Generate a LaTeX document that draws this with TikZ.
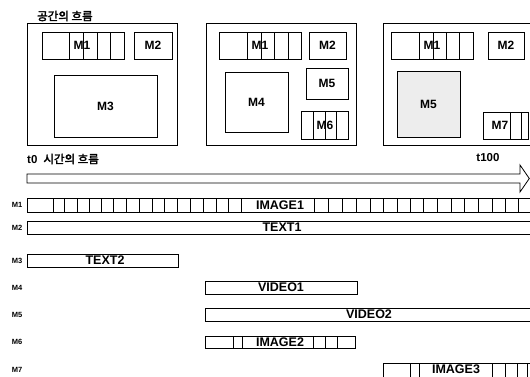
\documentclass[tikz,border=0pt]{standalone}
\usepackage{fontspec}
\setmainfont{Liberation Sans}
\newfontfamily\kr{Noto Sans CJK KR}[AutoFakeBold=2.5]
\begin{document}
\begin{tikzpicture}[x=1pt,y=-1pt,
  box/.style={draw=black, line width=0.8pt, anchor=north west, inner sep=0pt, outer sep=0pt,
              font=\fontsize{12}{12}\selectfont\bfseries},
  bar/.style={draw=black, line width=0.8pt, anchor=north west, inner sep=0pt, outer sep=0pt},
  div/.style={line width=0.7pt},
  mtxt/.style={inner sep=0pt, font=\fontsize{12}{12}\selectfont\bfseries},
  rowtxt/.style={inner sep=0.5pt, fill=white, font=\fontsize{12.5}{13}\selectfont\bfseries},
  rowlab/.style={inner sep=0pt, font=\fontsize{7.5}{8}\selectfont\bfseries},
  ttl/.style={inner sep=0pt, anchor=west, font=\fontsize{11.5}{12}\selectfont\bfseries}]
\clip (0,0) rectangle (530,376);
\fill[white] (0,0) rectangle (530,376);

% titles
\node[ttl] (sp) at (37,16) {\kr 공간의 흐름};
\node[ttl] (tz) at (27,159) {t0\hspace{6pt}{\kr 시간의 흐름}};
\node[ttl, anchor=center] (th) at (488,158) {t100};

% panel 1
\node[bar, minimum width=150pt, minimum height=122pt] (p1) at (27,23) {};
\node[box, minimum width=82pt, minimum height=27pt] (a1) at (42,32) {};
\foreach \x in {69,83,97,110} \draw[div] (\x,32) -- (\x,59);
\node[mtxt] (a1t) at (82,45.5) {M1};
\node[box, minimum width=38pt, minimum height=27pt] (a2) at (134,32) {M2};
\node[box, minimum width=103pt, minimum height=62pt] (a3) at (54,75) {M3};

% panel 2
\node[bar, minimum width=150pt, minimum height=122pt] (p2) at (206,23) {};
\node[box, minimum width=82pt, minimum height=27pt] (b1) at (219,32) {};
\foreach \x in {247,261,274,288} \draw[div] (\x,32) -- (\x,59);
\node[mtxt] (b1t) at (260,45.5) {M1};
\node[box, minimum width=37pt, minimum height=27pt] (b2) at (309,32) {M2};
\node[box, minimum width=63pt, minimum height=60pt] (b4) at (225,72) {M4};
\node[box, minimum width=42pt, minimum height=31pt] (b5) at (306,68) {M5};
\node[box, minimum width=47pt, minimum height=28pt] (b6) at (301,111) {};
\foreach \x in {313,325,336} \draw[div] (\x,111) -- (\x,139);
\node[mtxt] (b6t) at (325,125) {M6};

% panel 3
\node[bar, minimum width=160pt, minimum height=122pt] (p3) at (383,23) {};
\node[box, minimum width=82pt, minimum height=27pt] (c1) at (391,32) {};
\foreach \x in {419,433,446,459} \draw[div] (\x,32) -- (\x,59);
\node[mtxt] (c1t) at (432,45.5) {M1};
\node[box, minimum width=36pt, minimum height=27pt] (c2) at (488,32) {M2};
\node[box, fill=black!7, minimum width=63pt, minimum height=66pt] (c5) at (397,71) {M5};
\node[box, minimum width=45pt, minimum height=27pt] (c7) at (483,112) {};
\foreach \x in {510,521} \draw[div] (\x,112) -- (\x,139);
\node[mtxt] (c7t) at (500,125.5) {M7};

% time arrow
\draw[line width=0.8pt, fill=white] (27,174) -- (520,174) -- (520,165) -- (529.3,178.5)
  -- (520,192) -- (520,183) -- (27,183) -- cycle;

% row labels
\node[rowlab] (l1) at (17,205) {M1};
\node[rowlab] (l2) at (17,227.5) {M2};
\node[rowlab] (l3) at (17,260.5) {M3};
\node[rowlab] (l4) at (17,287.5) {M4};
\node[rowlab] (l5) at (17,314.5) {M5};
\node[rowlab] (l6) at (17,342) {M6};
\node[rowlab] (l7) at (17,369.5) {M7};

% rows
\node[bar, minimum width=520pt, minimum height=14pt] (r1) at (27,198) {};
\foreach \x in {53,64,77,89,101,113,126,139,152,164,177,190,203,216,228,241,314,328,342,356,370,383,397,410,423,437,451,464,478,492,505,518}
  \draw[div] (\x,198) -- (\x,212);
\node[rowtxt] (r1t) at (280,205) {IMAGE1};

\node[bar, minimum width=520pt, minimum height=13pt] (r2) at (27,221) {};
\node[rowtxt] (r2t) at (282,227.5) {TEXT1};

\node[bar, minimum width=151pt, minimum height=13pt] (r3) at (27,254) {};
\node[rowtxt] (r3t) at (105,260.5) {TEXT2};

\node[bar, minimum width=152pt, minimum height=13pt] (r4) at (205,281) {};
\node[rowtxt] (r4t) at (281,287.5) {VIDEO1};

\node[bar, minimum width=340pt, minimum height=13pt] (r5) at (205,308) {};
\node[rowtxt] (r5t) at (369,314.5) {VIDEO2};

\node[bar, minimum width=150pt, minimum height=12pt] (r6) at (205,336) {};
\foreach \x in {233,242,313,325,337} \draw[div] (\x,336) -- (\x,348);
\node[rowtxt] (r6t) at (280,342) {IMAGE2};

\node[bar, minimum width=160pt, minimum height=14pt] (r7) at (383,363) {};
\foreach \x in {410,419,492,505,517,527} \draw[div] (\x,363) -- (\x,377);
\node[rowtxt] (r7t) at (456,369.5) {IMAGE3};
\end{tikzpicture}
\end{document}
